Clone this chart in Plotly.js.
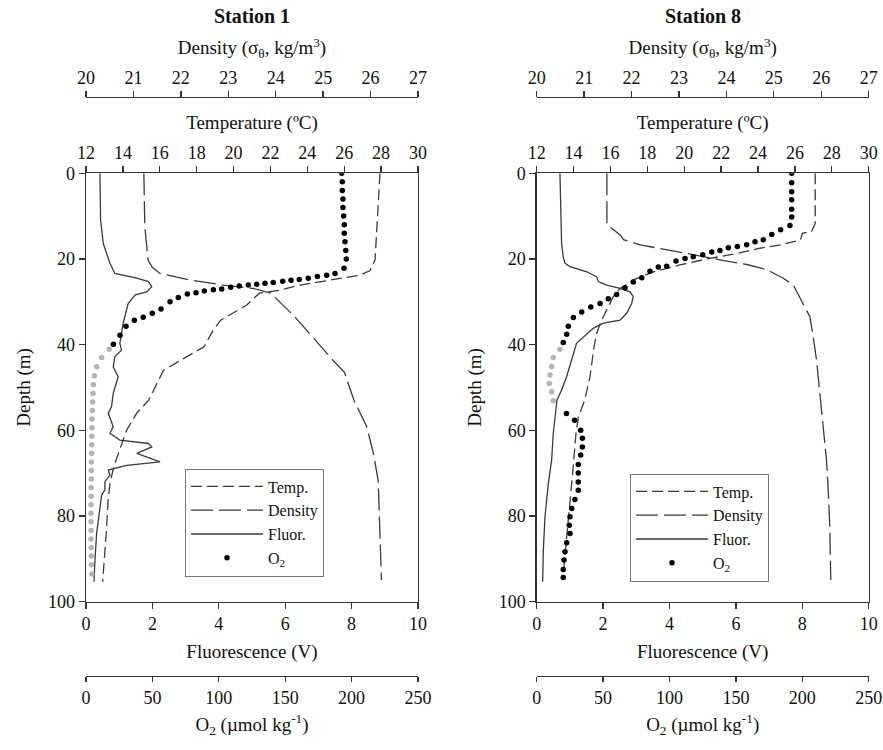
<!DOCTYPE html>
<html><head><meta charset="utf-8">
<script src="https://cdn.plot.ly/plotly-3.0.1.min.js"></script>
<style>html,body{margin:0;padding:0;background:#fff}#chart{width:883px;height:750px}</style>
</head><body><div id="chart"></div>
<script>
// ---------- Station 1 data ----------
const s1TempDepth = [0, 5, 12.5, 20.3, 22.7, 23.8, 26.1, 27.3, 28, 30.8, 34.3, 36.6, 40.5, 43.2, 46, 53, 56, 60, 64.7, 68.6, 72.4, 76.3, 84, 90.3, 95.4];
const s1Temp = [27.94, 27.88, 27.8, 27.67, 27.4, 26.86, 23.6, 22.5, 21.4, 20.7, 19.3, 18.9, 18.4, 17.3, 16.2, 15.4, 14.75, 14.2, 13.8, 13.5, 13.3, 13.2, 13.1, 13.0, 12.9];

const s1DensDepth = [0, 12.5, 20.3, 22, 23.4, 24.9, 26.1, 26.9, 28, 29.6, 33.5, 38.5, 43.6, 46.5, 53, 59.2, 65.4, 71.7, 82.6, 95];
const s1Dens = [21.22, 21.24, 21.31, 21.40, 21.56, 22.19, 22.89, 23.53, 23.9, 24.05, 24.4, 24.8, 25.2, 25.45, 25.65, 25.92, 26.06, 26.16, 26.20, 26.23];

const s1FluorDepth = [0, 10.9, 16.4, 21, 23.4, 24.5, 25.3, 26.5, 27.7, 28.4, 30.4, 35, 39.7, 41.3, 42.8, 45.2, 47.5, 51.4, 54.5, 56, 59.2, 60.7, 62.3, 63.1, 63.9, 65.4, 67.4, 68.2, 69.3, 70.5, 72, 73.9, 75.2, 77.9, 84.1, 90.4, 95.4];
const s1Fluor = [0.42, 0.44, 0.52, 0.72, 0.87, 1.53, 1.88, 1.98, 1.83, 1.48, 1.27, 1.12, 1.02, 1.07, 0.87, 0.82, 0.97, 0.82, 0.77, 0.67, 0.82, 0.72, 1.02, 1.88, 1.98, 1.53, 2.23, 1.23, 0.67, 0.72, 0.57, 0.57, 0.47, 0.42, 0.32, 0.27, 0.24];

const s1O2Depth = [0, 2, 4, 6, 8, 10, 12, 14, 16, 18, 20, 22.2, 23.4, 23.8, 24.1, 24.5, 24.8, 25.0, 25.2, 25.5, 25.7, 25.9, 26.1, 26.3, 26.6, 27.0, 27.2, 27.5, 27.9, 28.2, 29.0, 30.0, 31.7, 32.7, 33.6, 34.3, 35.7, 37.8, 39.9];
const s1O2 = [192.5, 193.0, 193.0, 193.5, 193.5, 194.0, 194.5, 194.5, 195.0, 195.6, 196.0, 194.3, 187.5, 181.2, 174.2, 167.4, 160.6, 154.4, 148.1, 141.0, 134.8, 128.5, 122.2, 115.4, 109.0, 102.2, 95.9, 89.1, 82.8, 76.3, 69.5, 63.3, 56.5, 49.9, 43.1, 36.4, 30.1, 25.6, 20.6];
const s1O2GreyDepth = [41.1, 43, 45.2, 47.3, 49.4, 51.4, 53.4, 55.4, 57.4, 59.4, 61.4, 63.4, 65.4, 67.4, 69.4, 71.4, 73.4, 75.4, 77.4, 79.4, 81.4, 83.4, 85.4, 87.4, 89.4, 91.4, 93.6];
const s1O2Grey = [17.5, 11.8, 8.1, 6.3, 5.5, 5.2, 5.0, 4.8, 4.6, 4.5, 4.4, 4.3, 4.2, 4.1, 4.0, 4.0, 3.9, 3.9, 3.8, 3.8, 3.8, 3.8, 3.8, 3.9, 4.0, 4.1, 4.4];

// ---------- Station 8 data ----------
const s8TempDepth = [0, 11.7, 13.6, 14, 15.6, 16.7, 17.5, 18.9, 20, 21.4, 23, 24.9, 26.9, 28.8, 31.2, 34.3, 37.4, 40.5, 47.5, 53, 56.9, 60.7, 68.5, 76.3, 84.1, 91.9, 95];
const s8Temp = [27.1, 27.1, 26.9, 26.4, 26.3, 25.2, 24.1, 22.66, 21.22, 19.77, 18.32, 17.24, 16.52, 16.15, 15.88, 15.52, 15.25, 15.11, 14.89, 14.6, 14.26, 14.13, 13.98, 13.81, 13.63, 13.44, 13.41];

const s8DensDepth = [0, 12, 14.4, 15.5, 16.7, 17.8, 19, 20.2, 21.3, 22.5, 24.5, 26.1, 30.4, 33.5, 38.2, 43.6, 51.4, 59.2, 67, 74.8, 82.6, 95];
const s8Dens = [21.48, 21.48, 21.76, 21.83, 22.18, 22.74, 23.30, 23.86, 24.43, 24.85, 25.2, 25.41, 25.62, 25.76, 25.83, 25.9, 25.97, 26.04, 26.11, 26.15, 26.18, 26.2];

const s8FluorDepth = [0, 8.6, 16.4, 19.5, 21, 21.8, 23, 24.2, 25.3, 26.1, 26.9, 27.7, 28.8, 30.4, 32.7, 34.3, 35, 36.2, 38.9, 39.7, 43.6, 47.5, 50.6, 53, 60.7, 67, 72.4, 80.2, 88, 95.4];
const s8Fluor = [0.70, 0.73, 0.75, 0.80, 0.85, 1.0, 1.51, 1.81, 1.86, 2.11, 2.51, 2.81, 2.91, 2.86, 2.71, 2.51, 2.01, 1.70, 1.30, 1.20, 1.05, 0.90, 0.75, 0.61, 0.50, 0.45, 0.35, 0.25, 0.20, 0.18];

const s8O2Depth = [0, 2.2, 4.3, 6.2, 8.4, 10.2, 12.2, 13.2, 14.3, 15.5, 16, 16.7, 17.1, 17.4, 18, 18.4, 19, 19.5, 19.9, 20.5, 21.7, 21.9, 22.9, 24.4, 25.4, 26.7, 28.3, 29.3, 30.4, 31.2, 32.4, 33.7, 35.7, 37.6, 39.5,
  56.1, 57.7, 60, 61.9, 63.9, 65.8, 68, 70, 72.1, 74, 76.2, 78.3, 80.2, 82.2, 84.1, 86.3, 88.4, 90.3, 92.5, 94.4];
const s8O2 = [192, 192, 192, 192, 192, 192, 190.7, 183.7, 177.0, 170.6, 164.4, 158.1, 151.1, 144.3, 138.0, 131.8, 125.0, 117.9, 111.7, 104.9, 97.9, 91.6, 85.3, 79.1, 72.7, 66.5, 60.2, 53.9, 47.7, 40.7, 33.9, 27.6, 23.8, 22.6, 20.0,
  22.4, 28.5, 33.1, 34.4, 34.4, 33.1, 31.3, 31.3, 31.3, 31.3, 28.8, 26.4, 25.1, 24.5, 25.1, 22.6, 21.3, 20.6, 20.0, 20.0];
const s8O2GreyDepth = [41.1, 43, 45.1, 47.1, 49.1, 51, 53.1];
const s8O2Grey = [17.5, 12.5, 11.3, 10.0, 9.5, 11.3, 12.5];

// ---------- tick / label text ----------
const stationNames = ['Station 1', 'Station 8'];
const seriesNames = ['Temp.', 'Density', 'Fluor.', 'O<sub>2</sub>'];
const titleDepth = 'Depth (m)';
const titleFluor = 'Fluorescence (V)';
const titleTemp = 'Temperature (ºC)';
const titleDens = 'Density (σ<sub>θ</sub>, kg/m<sup>3</sup>)';
const titleO2 = 'O<sub>2</sub> (µmol kg<sup>-1</sup>)';

// ---------- styling ----------
const FONT = '"Liberation Serif", "Times New Roman", serif';
const AX = '#333';
const LINE = '#3a3a3a';
const W = 883, H = 750;
const px = v => v / W, py = v => (H - v) / H;
const xDom = [[px(86), px(418)], [px(536.7), px(868.7)]];
const yDom = [py(601.5), py(173.3)];
const posDens = py(97);
const posO2 = py(676);

function ax(extra) {
  return Object.assign({
    showline: true, linecolor: AX, linewidth: 1.3,
    ticks: 'outside', ticklen: 6, tickwidth: 1.3, tickcolor: AX,
    showgrid: false, zeroline: false, automargin: false, fixedrange: true,
    autorange: false,
    tickfont: {family: FONT, size: 18, color: '#111'}
  }, extra);
}
function ttl(text, standoff) {
  return {text: text, standoff: standoff, font: {family: FONT, size: 19, color: '#111'}};
}

const stations = [
  {temp: [s1Temp, s1TempDepth], dens: [s1Dens, s1DensDepth], fluor: [s1Fluor, s1FluorDepth], o2: [s1O2, s1O2Depth], o2g: [s1O2Grey, s1O2GreyDepth]},
  {temp: [s8Temp, s8TempDepth], dens: [s8Dens, s8DensDepth], fluor: [s8Fluor, s8FluorDepth], o2: [s8O2, s8O2Depth], o2g: [s8O2Grey, s8O2GreyDepth]}
];

const traces = [];
const layout = {
  width: W, height: H, margin: {l: 0, r: 0, t: 0, b: 0},
  paper_bgcolor: '#fff', plot_bgcolor: '#fff',
  font: {family: FONT, size: 18, color: '#111'},
  showlegend: true, annotations: []
};

stations.forEach((st, i) => {
  const b = i * 4;
  const xF = 'x' + (b === 0 ? '' : b + 1), xT = 'x' + (b + 2), xD = 'x' + (b + 3), xO = 'x' + (b + 4);
  const yA = 'y' + (i === 0 ? '' : 2);
  const lg = i === 0 ? 'legend' : 'legend2';
  traces.push({type: 'scatter', mode: 'lines', name: seriesNames[0], x: st.temp[0], y: st.temp[1], xaxis: xT, yaxis: yA, legend: lg,
    line: {color: LINE, width: 1.3, dash: '11px,5px'}});
  traces.push({type: 'scatter', mode: 'lines', name: seriesNames[1], x: st.dens[0], y: st.dens[1], xaxis: xD, yaxis: yA, legend: lg,
    line: {color: LINE, width: 1.3, dash: '22px,6px'}});
  traces.push({type: 'scatter', mode: 'lines', name: seriesNames[2], x: st.fluor[0], y: st.fluor[1], xaxis: xF, yaxis: yA, legend: lg,
    line: {color: LINE, width: 1.3}});
  traces.push({type: 'scatter', mode: 'markers', name: seriesNames[3], x: st.o2[0], y: st.o2[1], xaxis: xO, yaxis: yA, legend: lg,
    marker: {color: '#000', size: 5.5}});
  traces.push({type: 'scatter', mode: 'markers', name: 'O<sub>2</sub> (grey)', showlegend: false, x: st.o2g[0], y: st.o2g[1], xaxis: xO, yaxis: yA,
    marker: {color: '#b4b4b4', size: 5.5}});

  const kF = 'xaxis' + (b === 0 ? '' : b + 1), kT = 'xaxis' + (b + 2), kD = 'xaxis' + (b + 3), kO = 'xaxis' + (b + 4);
  const kY = 'yaxis' + (i === 0 ? '' : 2);
  layout[kF] = ax({domain: xDom[i], range: [0, 10], dtick: 2, tick0: 0, anchor: yA, side: 'bottom', title: ttl(titleFluor, 11)});
  layout[kT] = ax({overlaying: xF, range: [12, 30], dtick: 2, tick0: 12, anchor: yA, side: 'top', title: ttl(titleTemp, 8)});
  layout[kD] = ax({overlaying: xF, range: [20, 27], dtick: 1, tick0: 20, anchor: 'free', position: posDens, side: 'top', title: ttl(titleDens, 6)});
  layout[kO] = ax({overlaying: xF, range: [0, 250], dtick: 50, tick0: 0, anchor: 'free', position: posO2, side: 'bottom', ticklen: 5, title: ttl(titleO2, 10)});
  layout[kY] = ax({domain: yDom, range: [100, 0], dtick: 20, tick0: 0, anchor: xF, side: 'left', mirror: true, title: ttl(titleDepth, 12)});

  layout.annotations.push({xref: 'paper', yref: 'paper', x: (xDom[i][0] + xDom[i][1]) / 2, y: py(16), xanchor: 'center', yanchor: 'middle',
    showarrow: false, text: '<b>' + stationNames[i] + '</b>', font: {family: FONT, size: 20, color: '#111'}});

  layout[lg] = {x: i === 0 ? px(185) : px(630), y: i === 0 ? py(468.5) : py(473.5), xanchor: 'left', yanchor: 'top',
    bgcolor: '#fff', bordercolor: '#777', borderwidth: 1, itemwidth: 72, tracegroupgap: 0,
    font: {family: FONT, size: 16, color: '#111'}, traceorder: 'normal'};
});

Plotly.newPlot('chart', traces, layout, {displayModeBar: false, staticPlot: true});
</script>
</body></html>
